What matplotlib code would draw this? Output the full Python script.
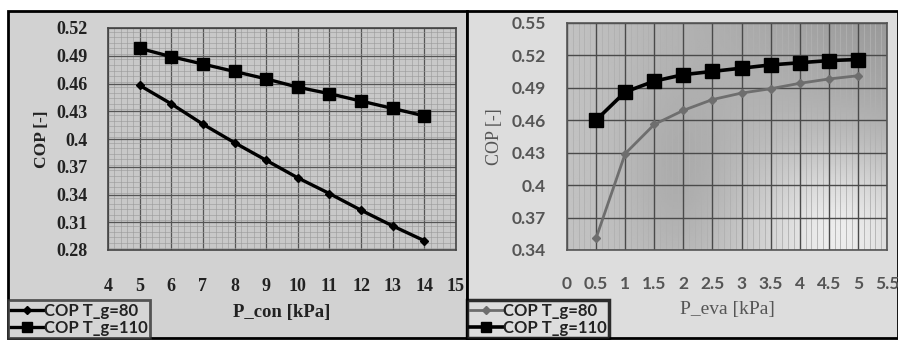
import numpy as np
import matplotlib
matplotlib.use('Agg')
import matplotlib.pyplot as plt
from matplotlib.patches import Rectangle
from matplotlib.ticker import MultipleLocator

# Left chart: COP vs condenser pressure
p_con = [5, 6, 7, 8, 9, 10, 11, 12, 13, 14]
cop_con_80 = [0.458, 0.438, 0.416, 0.396, 0.377, 0.358, 0.341, 0.323, 0.306, 0.290]
cop_con_110 = [0.498, 0.489, 0.481, 0.473, 0.465, 0.456, 0.449, 0.441, 0.433, 0.425]
con_xticks = list(range(4, 16))
con_yticks = [0.28, 0.31, 0.34, 0.37, 0.40, 0.43, 0.46, 0.49, 0.52]

# Right chart: COP vs evaporator pressure
p_eva = [0.5, 1, 1.5, 2, 2.5, 3, 3.5, 4, 4.5, 5]
cop_eva_80 = [0.351, 0.429, 0.456, 0.469, 0.479, 0.485, 0.489, 0.494, 0.498, 0.501]
cop_eva_110 = [0.460, 0.486, 0.496, 0.502, 0.505, 0.508, 0.511, 0.513, 0.515, 0.516]
eva_xticks = [0, 0.5, 1, 1.5, 2, 2.5, 3, 3.5, 4, 4.5, 5, 5.5]
eva_yticks = [0.34, 0.37, 0.40, 0.43, 0.46, 0.49, 0.52, 0.55]

W, H = 898, 340
fig = plt.figure(figsize=(W / 100, H / 100), dpi=100)
fig.patch.set_facecolor('white')


def fx(px):
    return px / W


def fy(py):
    return 1 - py / H


# panel backgrounds
fig.patches.append(Rectangle((fx(8), fy(338)), fx(459), (338 - 11) / H, transform=fig.transFigure,
                             facecolor='#d2d2d2', edgecolor='black', lw=2, zorder=-5))
fig.patches.append(Rectangle((fx(467), fy(338)), fx(431), (338 - 11) / H, transform=fig.transFigure,
                             facecolor='#dddddd', edgecolor='black', lw=2, zorder=-5))

serif = 'Liberation Serif'
sans = 'Lato'

# ---------- left chart ----------
ax1 = fig.add_axes([fx(108), fy(250), fx(456 - 108), (250 - 28) / H])
ax1.set_facecolor('#c8c8c8')
ax1.plot(p_con, cop_con_80, color='black', lw=2.4, marker='D', ms=4.5, label='COP T_g=80')
ax1.plot(p_con, cop_con_110, color='black', lw=2.4, marker='s', ms=8.5, label='COP T_g=110')
ax1.set_xlim(4, 15)
ax1.set_ylim(0.28, 0.52)
ax1.set_xticks(con_xticks)
ax1.set_yticks(con_yticks)
ax1.set_yticklabels(['%g' % v for v in con_yticks])
ax1.xaxis.set_minor_locator(MultipleLocator(0.2))
ax1.yaxis.set_minor_locator(MultipleLocator(0.006))
ax1.grid(which='major', color='#555555', lw=0.9)
ax1.grid(which='minor', color='#999999', lw=0.4)
ax1.set_axisbelow(True)
ax1.tick_params(which='both', length=0)
ax1.tick_params(axis='x', pad=20)
ax1.tick_params(axis='y', pad=15)
for lab in ax1.get_xticklabels() + ax1.get_yticklabels():
    lab.set_fontfamily(serif)
    lab.set_fontweight('bold')
    lab.set_fontsize(13)
    lab.set_color('#222222')
for s in ax1.spines.values():
    s.set_color('#444444')
    s.set_linewidth(1.2)
ax1.set_xlabel('P_con [kPa]', fontfamily=serif, fontweight='bold', fontsize=13.5, labelpad=7,
               color='#222222')
ax1.set_ylabel('COP [-]', fontfamily=serif, fontweight='bold', fontsize=12.5, labelpad=4,
               color='#222222')
leg1 = fig.legend(handles=ax1.get_lines(), loc='lower left', bbox_to_anchor=(fx(8), fy(338)),
                  prop={'family': sans, 'size': 12, 'weight': 'bold'}, frameon=True, fancybox=False,
                  borderpad=0.15, labelspacing=0.05, handlelength=2.0, handletextpad=0.0,
                  borderaxespad=0, markerscale=0.8)
leg1.get_frame().set_edgecolor('#333333')
leg1.get_frame().set_linewidth(2)
leg1.get_frame().set_facecolor('#d6d6d6')
for t in leg1.get_texts():
    t.set_color('#222222')

# ---------- right chart ----------
ax2 = fig.add_axes([fx(567), fy(250), fx(887 - 567), (250 - 22.7) / H])
gx, gy = np.meshgrid(np.linspace(0, 1, 200), np.linspace(0, 1, 120))
shade = 0.76 - 0.16 * gy * gx + 0.18 * np.exp(-((gx - 0.85) ** 2 / 0.06 + (gy - 0.1) ** 2 / 0.12)) \
    - 0.07 * np.exp(-((gx - 0.35) ** 2 / 0.03 + (gy - 0.3) ** 2 / 0.2))
ax2.imshow(shade, cmap='gray', vmin=0, vmax=1, origin='lower', aspect='auto',
           extent=(0, 5.5, 0.34, 0.55), zorder=0)
ax2.plot(p_eva, cop_eva_80, color='#6e6e6e', lw=2.0, marker='D', ms=4.5, label='COP T_g=80', zorder=3)
ax2.plot(p_eva, cop_eva_110, color='black', lw=2.6, marker='s', ms=9.5, label='COP T_g=110', zorder=3)
ax2.set_xlim(0, 5.5)
ax2.set_ylim(0.34, 0.55)
ax2.set_xticks(eva_xticks)
ax2.set_xticklabels(['%g' % v for v in eva_xticks])
ax2.set_yticks(eva_yticks)
ax2.set_yticklabels(['%g' % v for v in eva_yticks])
ax2.xaxis.set_minor_locator(MultipleLocator(0.1))
ax2.grid(which='major', color='#4a4a4a', lw=1.0, zorder=1)
ax2.grid(which='minor', axis='x', color='#b0b0b0', lw=0.6, zorder=1)
ax2.tick_params(which='both', length=0)
ax2.tick_params(axis='x', pad=19)
ax2.tick_params(axis='y', pad=15)
for lab in ax2.get_xticklabels() + ax2.get_yticklabels():
    lab.set_fontfamily(sans)
    lab.set_fontweight('bold')
    lab.set_fontsize(12.5)
    lab.set_color('#555555')
for s in ax2.spines.values():
    s.set_color('#555555')
    s.set_linewidth(1.2)
ax2.set_xlabel('P_eva [kPa]', fontfamily=serif, fontsize=14, color='#555555', labelpad=6)
ax2.set_ylabel('COP [-]', fontfamily=serif, fontsize=13, color='#555555', labelpad=6)
leg2 = fig.legend(handles=ax2.get_lines(), loc='lower left', bbox_to_anchor=(fx(467), fy(338)),
                  prop={'family': sans, 'size': 12, 'weight': 'bold'}, frameon=True, fancybox=False,
                  borderpad=0.15, labelspacing=0.05, handlelength=2.0, handletextpad=0.0,
                  borderaxespad=0, markerscale=0.8)
leg2.get_frame().set_edgecolor('black')
leg2.get_frame().set_linewidth(2.5)
leg2.get_frame().set_facecolor('#dddddd')
for t in leg2.get_texts():
    t.set_color('#222222')

fig.savefig('out.png', dpi=100, facecolor=fig.get_facecolor())
